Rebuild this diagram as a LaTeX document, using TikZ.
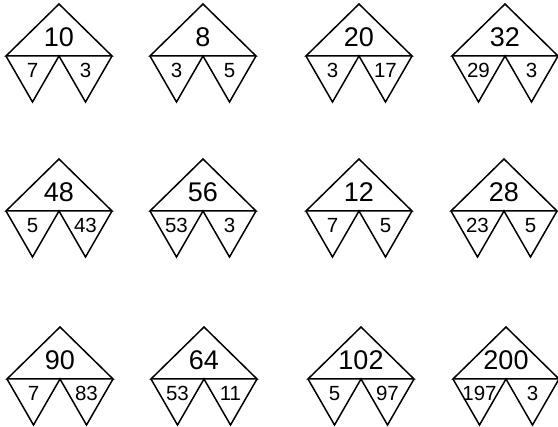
\documentclass[tikz,border=0pt]{standalone}
\usepackage{fontspec}
\setmainfont{Liberation Sans}
\usepackage{tikz}

\begin{document}
\begin{tikzpicture}[
  x=1pt, y=-1pt,
  tri/.style={draw, line width=1.5pt, line join=miter},
  big/.style={font=\fontsize{27}{27}\selectfont, inner sep=0pt},
  small/.style={font=\fontsize{20.5}{20.5}\selectfont, inner sep=0pt}
]
  \useasboundingbox (0,0) rectangle (558,427);
  \foreach \cx/\by/\nt/\nl/\nr [count=\i] in {
      59/56/10/7/3, 203/56/8/3/5, 359/56/20/3/17, 505/56/32/29/3,
      59/211/48/5/43, 203/211/56/53/3, 359/211/12/7/5, 504/211/28/23/5,
      60/379/90/7/83, 204/379/64/53/11, 361/379/102/5/97, 506/379/200/197/3}
  {
    \draw[tri] (\cx-53,\by) -- (\cx,\by-52) -- (\cx+53,\by) -- cycle;
    \draw[tri] (\cx-53,\by) -- (\cx-26.5,\by+46) -- (\cx,\by)
               -- (\cx+26.5,\by+46) -- (\cx+53,\by);
    \node[big] (sum-\i) at (\cx,\by-18.5) {\nt};
    \node[small] (left-\i) at (\cx-26.5,\by+14.5) {\nl};
    \node[small] (right-\i) at (\cx+26.5,\by+14.5) {\nr};
  }
\end{tikzpicture}
\end{document}
